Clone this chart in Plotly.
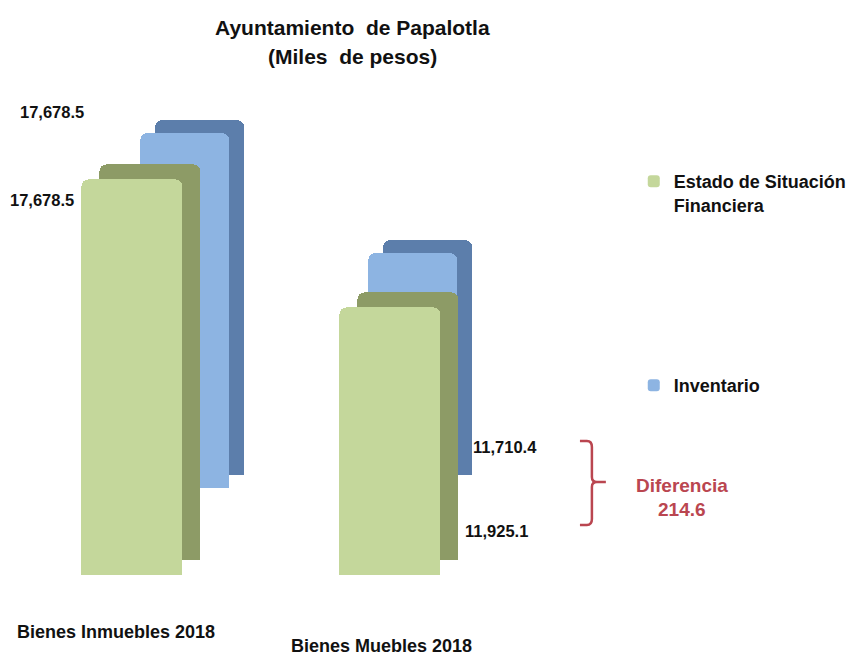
import plotly.graph_objects as go

# ---------------- data ----------------
categories = ["Bienes Inmuebles 2018", "Bienes Muebles 2018"]
estado_values = [17678.5, 11925.1]      # Estado de Situación Financiera
inventario_values = [17678.5, 11710.4]  # Inventario
series_names = ["Estado de Situación<br>Financiera", "Inventario"]
diferencia = 214.6
title_lines = ["Ayuntamiento\u00a0 de Papalotla", "(Miles\u00a0 de pesos)"]

# ---------------- style / layout constants ----------------
W, H = 852, 658
FONT = "Liberation Sans, Arial, sans-serif"
GREEN_FACE, GREEN_DARK = "#C4D79B", "#8D9B66"
BLUE_FACE, BLUE_DARK = "#8DB4E2", "#5C7EAB"
RED = "#BA4650"
YMAX = 19000


def px(x):
    return x / W


def py(y):
    return 1 - y / H


def fmt(v):
    return f"{v:,.1f}"


fig = go.Figure()

# pixel geometry: (x of range start, x of range end, y bottom px, y top px)
geoms = {
    "blue": (70.5, 528.5, 488, 488 - YMAX * 0.0201),
    "green": (2.5, 521.5, 575, 575 - YMAX * 0.0224),
}
shift = {"blue": (15, 13), "green": (18, 15)}

layers = [
    ("blue", True, inventario_values, BLUE_DARK),
    ("blue", False, inventario_values, BLUE_FACE),
    ("green", True, estado_values, GREEN_DARK),
    ("green", False, estado_values, GREEN_FACE),
]

for i, (ser, dark, vals, color) in enumerate(layers, start=1):
    x0, x1, yb, yt = geoms[ser]
    dx, dy = shift[ser] if dark else (0, 0)
    sfx = "" if i == 1 else str(i)
    fig.update_layout({
        f"xaxis{sfx}": dict(domain=[px(x0 + dx), px(x1 + dx)], range=[-0.5, 1.5],
                            visible=False, fixedrange=True, anchor=f"y{sfx}"),
        f"yaxis{sfx}": dict(domain=[py(yb - dy), py(yt - dy)], range=[0, YMAX],
                            visible=False, fixedrange=True, anchor=f"x{sfx}"),
    })
    is_green = ser == "green"
    fig.add_trace(go.Bar(
        x=[0, 1], y=vals,
        xaxis=f"x{sfx}", yaxis=f"y{sfx}",
        width=0.39,
        marker=dict(color=color, line=dict(width=0), cornerradius=7),
        name=series_names[0] if is_green else series_names[1],
        showlegend=not dark,
        legend="legend" if is_green else "legend2",
        hoverinfo="skip",
    ))


def label(text, x, y, size, color="#111111"):
    fig.add_annotation(text=f"<b>{text}</b>", x=px(x), y=py(y), xref="paper", yref="paper",
                       xanchor="center", yanchor="middle", showarrow=False,
                       font=dict(family=FONT, size=size, color=color))


# value labels
for v, x, y in [(inventario_values[0], 52, 112), (estado_values[0], 42, 200),
                (inventario_values[1], 507, 447), (estado_values[1], 498, 531)]:
    label(fmt(v), x, y, 16.5)

# category labels
label(categories[0], 116, 632, 18)
label(categories[1], 383, 646, 18)

# title
label(title_lines[0], 354, 27, 21)
label(title_lines[1], 354, 57, 21)

# diferencia
label("Diferencia", 684, 485, 19, RED)
label(f"{diferencia:.1f}", 684, 509, 19, RED)


# bracket
def P(x, y):
    return f"{px(x):.5f},{py(y):.5f}"


path = (f"M {P(582,441)} L {P(589,441)} Q {P(594,441)} {P(594,447)} "
        f"L {P(594,477)} Q {P(594,482)} {P(599,482)} L {P(608,482)} "
        f"M {P(599,482)} Q {P(594,482)} {P(594,487)} L {P(594,519)} "
        f"Q {P(594,525)} {P(589,525)} L {P(582,525)}")
fig.add_shape(type="path", path=path, xref="paper", yref="paper",
              line=dict(color=RED, width=2.5))

legend_font = dict(family=FONT, size=18, color="#111111", weight="bold")
fig.update_layout(
    width=W, height=H,
    margin=dict(l=0, r=0, t=0, b=0),
    paper_bgcolor="white", plot_bgcolor="rgba(0,0,0,0)",
    showlegend=True,
    legend=dict(x=px(636), y=py(163), xanchor="left", yanchor="top", valign="top",
                font=legend_font, bgcolor="rgba(0,0,0,0)"),
    legend2=dict(x=px(636), y=py(367), xanchor="left", yanchor="top", valign="top",
                 font=legend_font, bgcolor="rgba(0,0,0,0)"),
    bargap=0,
)

fig.write_html("out.html", config={"displayModeBar": False},
               post_script="document.body.style.margin='0px';")
